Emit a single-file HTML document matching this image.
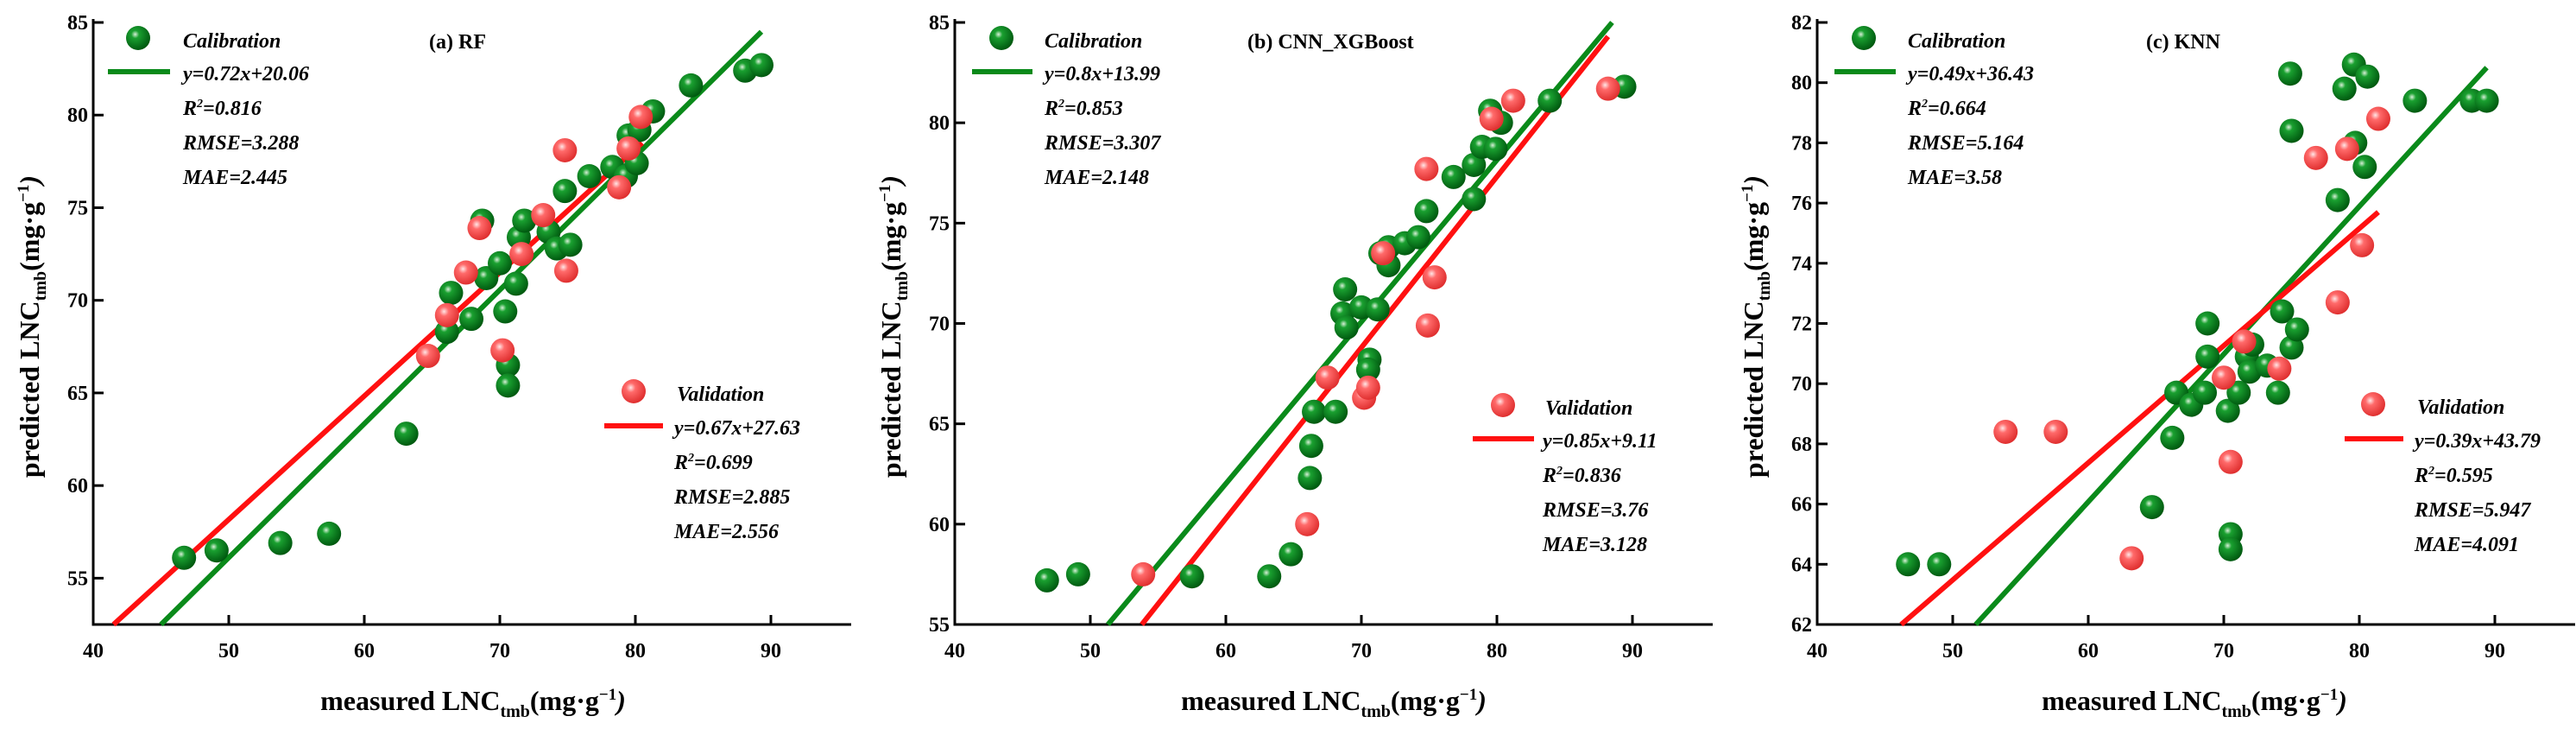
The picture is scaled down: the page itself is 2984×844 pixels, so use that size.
<!DOCTYPE html>
<html><head><meta charset="utf-8"><style>
html,body{margin:0;padding:0;background:#fff;}
svg{display:block;}
text{font-family:"Liberation Serif","DejaVu Serif",serif;}
.tk{font-size:24px;font-weight:bold;}
.lg{font-size:24px;font-weight:bold;font-style:italic;}
.ti{font-size:24px;font-weight:bold;}
.ax{font-size:32px;font-weight:bold;}
</style></head><body>
<svg id="chart" width="2984" height="844" viewBox="0 0 2984 844" xmlns="http://www.w3.org/2000/svg">
<defs>
<radialGradient id="gG" cx="0.38" cy="0.35" r="0.65"><stop offset="0" stop-color="#d8f0d8"/><stop offset="0.25" stop-color="#1aa030"/><stop offset="1" stop-color="#005a10"/></radialGradient>
<radialGradient id="gR" cx="0.38" cy="0.35" r="0.65"><stop offset="0" stop-color="#ffe6e6"/><stop offset="0.3" stop-color="#ff6a6a"/><stop offset="1" stop-color="#e03030"/></radialGradient>
</defs>
</svg>
<script>
// Panel (a) RF
const aCalX=[46.7,49.1,53.8,57.4,63.1,66.4,66.1,67.9,68.7,69,70,70.4,70.6,70.6,71.2,71.4,71.8,73.6,74.2,75.2,74.8,76.6,78.3,79.3,80.1,79.5,80.3,81.3,84.1,88.1,89.3];
const aCalY=[56.1,56.5,56.9,57.4,62.8,70.4,68.3,69,74.3,71.2,72.0,69.4,66.5,65.4,70.9,73.4,74.3,73.7,72.8,73.0,75.9,76.7,77.2,76.7,77.4,78.9,79.2,80.2,81.6,82.4,82.7];
const aValX=[64.7,66.1,67.5,68.5,70.2,71.6,73.2,74.8,74.9,78.8,79.5,80.4];
const aValY=[67.0,69.2,71.5,73.9,67.3,72.5,74.6,78.1,71.6,76.1,78.2,79.9];
const aCalLine=[[45,52.5],[89.3,84.5]];
const aValLine=[[41.5,52.5],[80.5,78.5]];
const aCalStats=["y=0.72x+20.06","0.816","RMSE=3.288","MAE=2.445"];
const aValStats=["y=0.67x+27.63","0.699","RMSE=2.885","MAE=2.556"];
const aYTicks=[55,60,65,70,75,80,85];
// Panel (b) CNN_XGBoost
const bCalX=[46.8,49.1,57.5,63.2,64.8,66.2,66.3,66.5,68.1,68.8,68.6,68.9,70,70.6,70.5,71.2,71.4,72,72,73.2,74.2,74.8,76.8,78.3,78.3,78.9,79.9,79.5,80.3,83.9,89.4];
const bCalY=[57.2,57.5,57.4,57.4,58.5,62.3,63.9,65.6,65.6,71.7,70.5,69.8,70.8,68.2,67.7,70.7,73.5,72.9,73.8,74.0,74.3,75.6,77.3,76.2,77.9,78.8,78.7,80.6,80.0,81.1,81.8];
const bValX=[53.9,66,67.5,70.2,70.5,71.6,74.9,75.4,74.8,79.6,81.2,88.2];
const bValY=[57.5,60.0,67.3,66.3,66.8,73.5,69.9,72.3,77.7,80.2,81.1,81.7];
const bCalLine=[[51.3,55],[88.5,85]];
const bValLine=[[53.8,55],[88.2,84.3]];
const bCalStats=["y=0.8x+13.99","0.853","RMSE=3.307","MAE=2.148"];
const bValStats=["y=0.85x+9.11","0.836","RMSE=3.76","MAE=3.128"];
const bYTicks=[55,60,65,70,75,80,85];
// Panel (c) KNN
const cCalX=[46.7,49.0,64.7,66.2,66.5,67.6,68.6,68.8,68.8,70.3,70.5,70.5,71.1,71.7,71.9,72.1,73.2,74.0,74.3,75.0,75.4,74.9,75,78.4,78.9,79.6,79.7,80.4,80.6,84.1,88.3,89.4];
const cCalY=[64.0,64.0,65.9,68.2,69.7,69.3,69.7,72.0,70.9,69.1,65.0,64.5,69.7,70.9,70.4,71.3,70.6,69.7,72.4,71.2,71.8,80.3,78.4,76.1,79.8,80.6,78.0,77.2,80.2,79.4,79.4,79.4];
const cValX=[53.9,57.6,63.2,70.0,70.5,71.5,74.1,76.8,78.4,79.1,80.2,81.4];
const cValY=[68.4,68.4,64.2,70.2,67.4,71.4,70.5,77.5,72.7,77.8,74.6,78.8];
const cCalLine=[[51.7,62],[89.4,80.5]];
const cValLine=[[46.2,62],[81.4,75.7]];
const cCalStats=["y=0.49x+36.43","0.664","RMSE=5.164","MAE=3.58"];
const cValStats=["y=0.39x+43.79","0.595","RMSE=5.947","MAE=4.091"];
const cYTicks=[62,64,66,68,70,72,74,76,78,80,82];
const xTicks=[40,50,60,70,80,90];

const NS="http://www.w3.org/2000/svg";
const svg=document.getElementById('chart');
function mk(tag,attrs,parent,text){const e=document.createElementNS(NS,tag);for(const k in attrs)e.setAttribute(k,attrs[k]);if(text!==undefined)e.textContent=text;(parent||svg).appendChild(e);return e;}

const panels=[
 {id:'a',title:'(a)  RF',left:108,ymin:52.5,ymax:85,titleX:497,cal:[aCalX,aCalY],val:[aValX,aValY],cl:aCalLine,vl:aValLine,cs:aCalStats,vs:aValStats,yt:aYTicks,leg:{mx:160,tx:212,lx1:125,lx2:197},vleg:{mx:734,my:453,tx:784,lx1:700,lx2:768,ly:493},yT:35,xT:548},
 {id:'b',title:'(b)  CNN_XGBoost',left:1106,ymin:55,ymax:85,titleX:1445,cal:[bCalX,bCalY],val:[bValX,bValY],cl:bCalLine,vl:bValLine,cs:bCalStats,vs:bValStats,yt:bYTicks,leg:{mx:1160,tx:1210,lx1:1126,lx2:1196},vleg:{mx:1741,my:469,tx:1790,lx1:1706,lx2:1777,ly:508},yT:1033,xT:1545},
 {id:'c',title:'(c)  KNN',left:2105,ymin:62,ymax:82,titleX:2486,cal:[cCalX,cCalY],val:[cValX,cValY],cl:cCalLine,vl:cValLine,cs:cCalStats,vs:cValStats,yt:cYTicks,leg:{mx:2159,tx:2210,lx1:2125,lx2:2196},vleg:{mx:2749,my:468,tx:2800,lx1:2716,lx2:2784,ly:508},yT:2032,xT:2542}
];
const TOP=26,BOT=723,PXU=15.7,XW=878;

panels.forEach(p=>{
 const g=mk('g',{});
 
 
 const X=v=>p.left+(v-40)*PXU;
 const Y=v=>BOT-(v-p.ymin)/(p.ymax-p.ymin)*(BOT-TOP);
 const ya=mk('line',{x1:p.left,y1:TOP-4,x2:p.left,y2:BOT,stroke:'#000','stroke-width':3},g);
 
 
 const xa=mk('line',{x1:p.left-1.5,y1:BOT,x2:p.left+XW,y2:BOT,stroke:'#000','stroke-width':3},g);
 
 
 xTicks.forEach(t=>{
  mk('line',{x1:X(t),y1:BOT,x2:X(t),y2:BOT-11,stroke:'#000','stroke-width':3},g);
  const l=mk('text',{x:X(t),y:761,'text-anchor':'middle',class:'tk'},g,t);
  
  
 });
 p.yt.forEach(t=>{
  mk('line',{x1:p.left,y1:Y(t),x2:p.left+12,y2:Y(t),stroke:'#000','stroke-width':3},g);
  const l=mk('text',{x:p.left-6,y:Y(t)+8,'text-anchor':'end',class:'tk'},g,t);
  
  
 });
 const cl=mk('line',{x1:X(p.cl[0][0]),y1:Y(p.cl[0][1]),x2:X(p.cl[1][0]),y2:Y(p.cl[1][1]),stroke:'#0a8a1a','stroke-width':6},g);
 
 
 const vl=mk('line',{x1:X(p.vl[0][0]),y1:Y(p.vl[0][1]),x2:X(p.vl[1][0]),y2:Y(p.vl[1][1]),stroke:'#ff1010','stroke-width':6},g);
 
 
 p.cal[0].forEach((x,i)=>{
  const c=mk('circle',{cx:X(x),cy:Y(p.cal[1][i]),r:14,fill:'url(#gG)'},g);
  
  
 });
 p.val[0].forEach((x,i)=>{
  const c=mk('circle',{cx:X(x),cy:Y(p.val[1][i]),r:14,fill:'url(#gR)'},g);
  
  
 });
 const t=mk('text',{x:p.titleX,y:56,class:'ti'},g,p.title);
 
 
 const L=p.leg;
 const m1=mk('circle',{cx:L.mx,cy:44,r:14,fill:'url(#gG)'},g);
 
 
 mk('text',{x:L.tx,y:55,class:'lg'},g,'Calibration');
 mk('line',{x1:L.lx1,y1:83,x2:L.lx2,y2:83,stroke:'#0a8a1a','stroke-width':6},g);
 function stats(s,x,y0,grp){
  mk('text',{x:x,y:y0,class:'lg'},grp,s[0]);
  const r=mk('text',{x:x,y:y0+40,class:'lg'},grp);
  mk('tspan',{},r,'R');mk('tspan',{dy:-9,'font-size':14},r,'2');mk('tspan',{dy:9},r,'='+s[1]);
  mk('text',{x:x,y:y0+80,class:'lg'},grp,s[2]);
  mk('text',{x:x,y:y0+120,class:'lg'},grp,s[3]);
 }
 stats(p.cs,L.tx,93,g);
 const V=p.vleg;
 const m2=mk('circle',{cx:V.mx,cy:V.my,r:14,fill:'url(#gR)'},g);
 
 
 mk('text',{x:V.tx,y:V.my+11,class:'lg'},g,'Validation');
 mk('line',{x1:V.lx1,y1:V.ly,x2:V.lx2,y2:V.ly,stroke:'#ff1010','stroke-width':6},g);
 stats(p.vs,V.tx-3,V.ly+10,g);
 const xt=mk('text',{x:p.xT,y:822,'text-anchor':'middle',class:'ax'},g);
 
 
 mk('tspan',{},xt,'measured LNC');mk('tspan',{dy:8,'font-size':20},xt,'tmb');mk('tspan',{dy:-8},xt,'(mg·g');mk('tspan',{dy:-12,'font-size':19},xt,'−1');mk('tspan',{dy:12,'font-style':'italic'},xt,')');
 const yt=mk('text',{x:0,y:0,'text-anchor':'middle',class:'ax',transform:'translate('+(p.yT+10)+',378) rotate(-90)'},g);
 
 
 mk('tspan',{},yt,'predicted LNC');mk('tspan',{dy:8,'font-size':20},yt,'tmb');mk('tspan',{dy:-8},yt,'(mg·g');mk('tspan',{dy:-12,'font-size':19},yt,'−1');mk('tspan',{dy:12,'font-style':'italic'},yt,')');
});
</script>
</body></html>
